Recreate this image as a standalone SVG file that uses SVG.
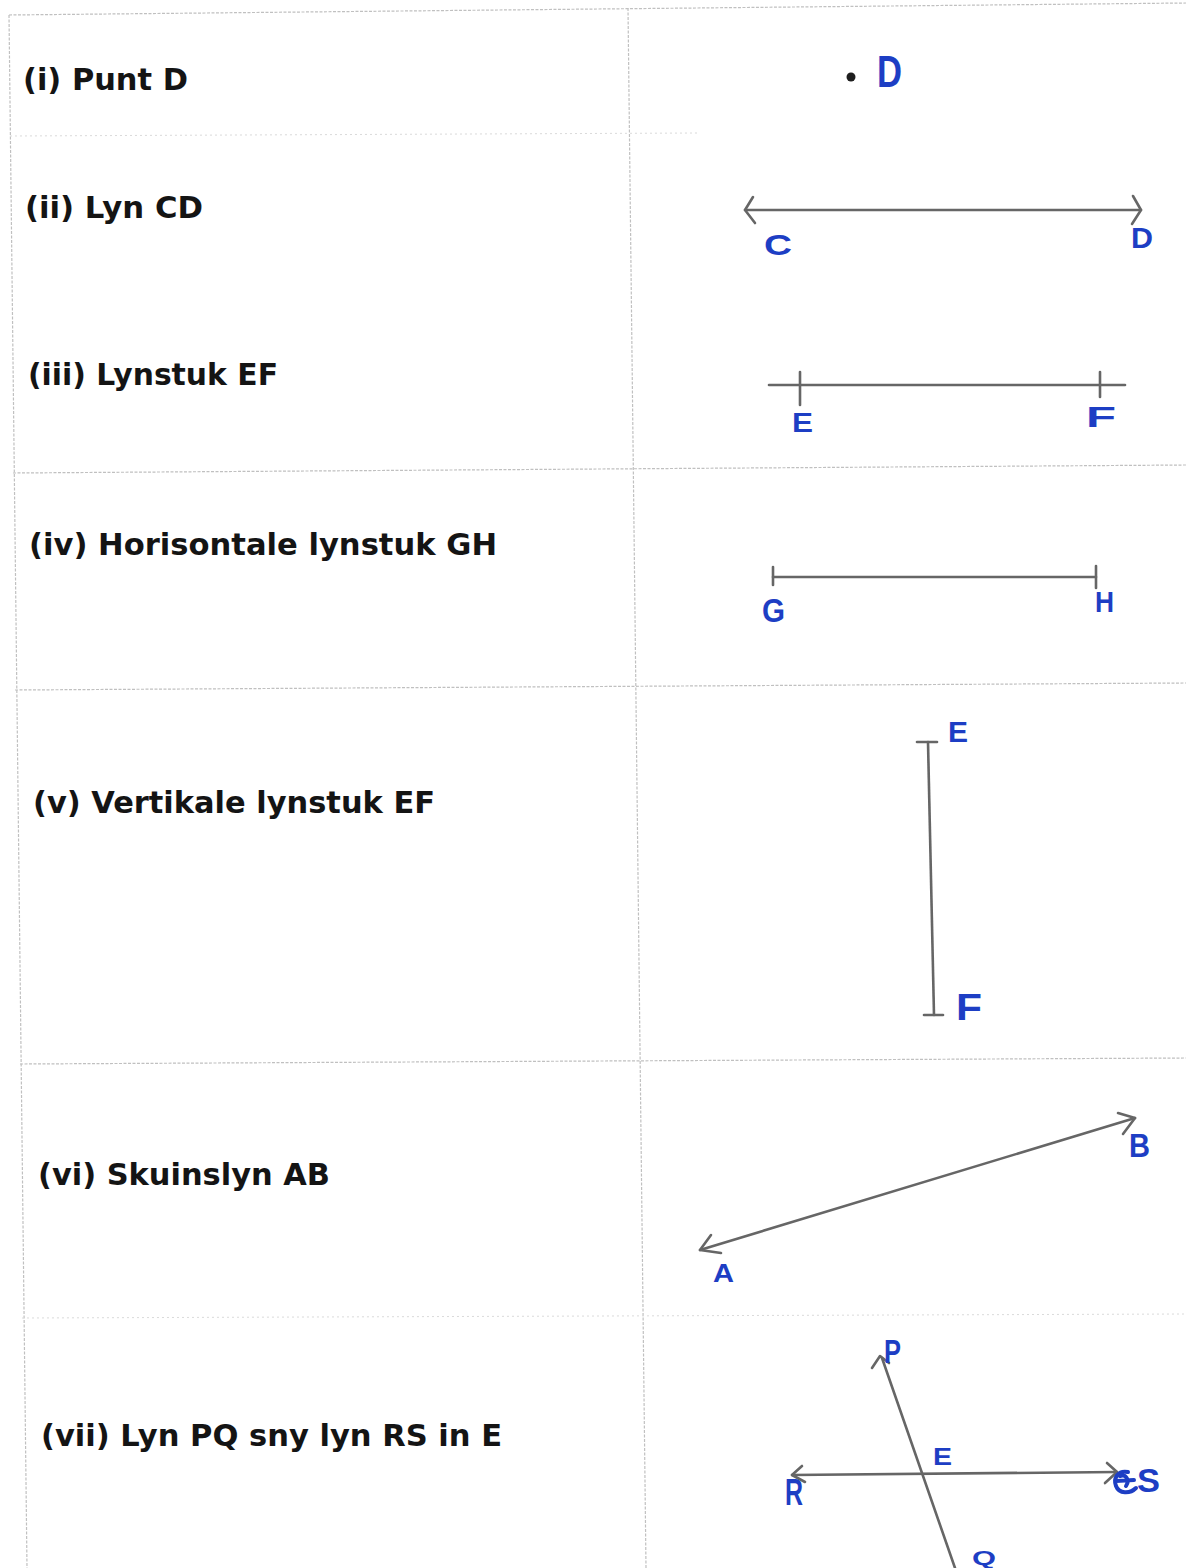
<svg xmlns="http://www.w3.org/2000/svg" width="1186" height="1568" viewBox="0 0 1186 1568">
<style>
.grid{stroke:#c0c0c0;stroke-width:1.2;fill:none;stroke-dasharray:3 1.5}
.faint{stroke:#dadada;stroke-width:1;fill:none;stroke-dasharray:2 3}
.q{font-family:"DejaVu Sans",Verdana,sans-serif;font-weight:bold;font-size:30px;fill:#141414}
.lbl{font-family:"Liberation Sans",Arial,sans-serif;font-weight:bold;fill:#1d3ec4}
.pen{stroke:#666666;stroke-width:2.6;fill:none;stroke-linecap:round;stroke-linejoin:round}
</style>
<rect width="1186" height="1568" fill="#ffffff"/>
<g id="table">
<line class="grid" x1="9" y1="15" x2="1186" y2="3"/>
<line class="grid" x1="9" y1="15" x2="27" y2="1568"/>
<line class="grid" x1="628" y1="8" x2="646" y2="1568"/>
<line class="faint" x1="10" y1="136" x2="700" y2="133"/>
<line class="grid" x1="13" y1="473" x2="1186" y2="465"/>
<line class="grid" x1="15" y1="690" x2="1186" y2="683"/>
<line class="grid" x1="20" y1="1064" x2="1186" y2="1058"/>
<line class="faint" x1="22" y1="1318" x2="1186" y2="1314"/>
</g>
<g id="questions">
<text class="q" x="23" y="90" textLength="165" lengthAdjust="spacingAndGlyphs">(i) Punt D</text>
<text class="q" x="25" y="218" textLength="178" lengthAdjust="spacingAndGlyphs">(ii) Lyn CD</text>
<text class="q" x="28" y="385" textLength="250" lengthAdjust="spacingAndGlyphs">(iii) Lynstuk EF</text>
<text class="q" x="29" y="555" textLength="468" lengthAdjust="spacingAndGlyphs">(iv) Horisontale lynstuk GH</text>
<text class="q" x="33" y="813" textLength="402" lengthAdjust="spacingAndGlyphs">(v) Vertikale lynstuk EF</text>
<text class="q" x="38" y="1185" textLength="292" lengthAdjust="spacingAndGlyphs">(vi) Skuinslyn AB</text>
<text class="q" x="41" y="1446" textLength="461" lengthAdjust="spacingAndGlyphs">(vii) Lyn PQ sny lyn RS in E</text>
</g>
<g id="point-D">
<circle cx="851" cy="77" r="4.5" fill="#1e1e1e"/>
<text class="lbl" x="877" y="87" font-size="44" textLength="25" lengthAdjust="spacingAndGlyphs">D</text>
</g>
<g id="line-CD">
<line class="pen" x1="745" y1="210" x2="1141" y2="210"/>
<polyline class="pen" points="753,197 745,210 755,223"/>
<polyline class="pen" points="1133,196 1141,210 1132,224"/>
<text class="lbl" x="764" y="255" font-size="30" textLength="28" lengthAdjust="spacingAndGlyphs">C</text>
<text class="lbl" x="1131" y="248" font-size="29" textLength="22" lengthAdjust="spacingAndGlyphs">D</text>
</g>
<g id="segment-EF">
<line class="pen" x1="769" y1="385" x2="1125" y2="385"/>
<line class="pen" x1="800" y1="372" x2="800" y2="405"/>
<line class="pen" x1="1100" y1="372" x2="1100" y2="397"/>
<text class="lbl" x="792" y="432" font-size="27" textLength="21" lengthAdjust="spacingAndGlyphs">E</text>
<text class="lbl" x="1086" y="427" font-size="30" textLength="30" lengthAdjust="spacingAndGlyphs">F</text>
</g>
<g id="segment-GH">
<line class="pen" x1="773" y1="577" x2="1096" y2="577"/>
<line class="pen" x1="773" y1="567" x2="773" y2="585"/>
<line class="pen" x1="1096" y1="566" x2="1096" y2="588"/>
<text class="lbl" x="762" y="622" font-size="34" textLength="23" lengthAdjust="spacingAndGlyphs">G</text>
<text class="lbl" x="1095" y="612" font-size="30" textLength="19" lengthAdjust="spacingAndGlyphs">H</text>
</g>
<g id="vertical-EF">
<line class="pen" x1="928" y1="742" x2="934" y2="1015"/>
<line class="pen" x1="917" y1="742" x2="937" y2="742" stroke-width="3.4"/>
<line class="pen" x1="924" y1="1015" x2="943" y2="1015" stroke-width="3.4"/>
<text class="lbl" x="948" y="742" font-size="30" textLength="20" lengthAdjust="spacingAndGlyphs">E</text>
<text class="lbl" x="956" y="1020" font-size="36" textLength="26" lengthAdjust="spacingAndGlyphs">F</text>
</g>
<g id="line-AB">
<line class="pen" x1="700" y1="1250" x2="1135" y2="1118"/>
<polyline class="pen" points="711,1235 700,1250 721,1253"/>
<polyline class="pen" points="1118,1113 1135,1118 1123,1134"/>
<text class="lbl" x="713" y="1282" font-size="26" textLength="21" lengthAdjust="spacingAndGlyphs">A</text>
<text class="lbl" x="1129" y="1157" font-size="33" textLength="21" lengthAdjust="spacingAndGlyphs">B</text>
</g>
<g id="lines-PQ-RS">
<line class="pen" x1="882" y1="1358" x2="955" y2="1568"/>
<polyline class="pen" points="872,1368 880,1356 889,1363"/>
<line class="pen" x1="792" y1="1475" x2="1117" y2="1472"/>
<polyline class="pen" points="802,1466 792,1475 805,1482"/>
<polyline class="pen" points="1107,1463 1117,1472 1105,1483"/>
<text class="lbl" x="884" y="1363" font-size="34" textLength="17" lengthAdjust="spacingAndGlyphs">P</text>
<text class="lbl" x="933" y="1465" font-size="24" textLength="19" lengthAdjust="spacingAndGlyphs">E</text>
<text class="lbl" x="785" y="1505" font-size="36" textLength="18" lengthAdjust="spacingAndGlyphs">R</text>
<path d="M1128,1472 C1118,1470 1113,1478 1116,1486 C1119,1494 1130,1494 1136,1488 M1116,1481 L1134,1480 M1120,1476 C1126,1474 1130,1480 1126,1486" stroke="#1d3ec4" stroke-width="4" fill="none" stroke-linecap="round"/>
<text class="lbl" x="1137" y="1492" font-size="34" textLength="23" lengthAdjust="spacingAndGlyphs" font-weight="normal">S</text>
<text class="lbl" x="972" y="1565" font-size="20" textLength="24" lengthAdjust="spacingAndGlyphs">Q</text>
</g>
</svg>
